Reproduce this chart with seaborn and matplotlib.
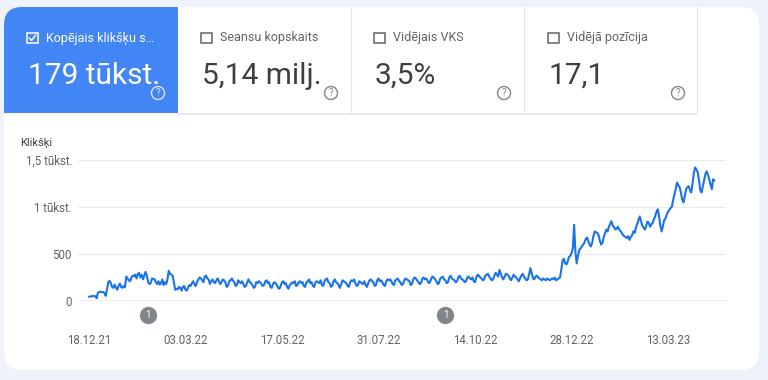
import pandas as pd
import seaborn as sns
import matplotlib.pyplot as plt
import matplotlib.dates as mdates
from matplotlib.patches import FancyBboxPatch, Rectangle, Circle
from matplotlib.transforms import blended_transform_factory

# -----------------------------
# Data (daily clicks)
# -----------------------------

start_date = "2021-12-18"

dec_21 = [45, 48, 50, 52, 55, 50, 30, 90, 95, 100, 92, 96, 85, 55]
jan_22 = [120, 200, 215, 190, 150, 140, 175, 140, 120, 160, 185, 150, 140, 160, 145, 260,
          240, 220, 210, 250, 270, 265, 280, 240, 290, 300, 250, 280, 230, 270, 310]
feb_22 = [270, 200, 180, 190, 240, 235, 230, 200, 180, 210, 175, 190, 230, 170, 200, 180,
          230, 320, 290, 280, 270, 200, 120, 130, 125, 150, 140, 110]
mar_22 = [150, 160, 120, 110, 140, 170, 160, 190, 210, 180, 160, 200, 230, 250, 240, 220,
          200, 260, 270, 240, 230, 180, 210, 230, 200, 190, 220, 240, 210, 180, 200]
apr_22 = [230, 220, 200, 150, 160, 210, 220, 240, 215, 200, 160, 170, 220, 200, 190, 210,
          180, 150, 160, 200, 230, 200, 190, 170, 140, 150, 200, 190, 210, 200]
may_22 = [180, 160, 170, 210, 220, 190, 200, 150, 140, 180, 200, 190, 170, 140, 130, 160,
          200, 210, 180, 190, 150, 130, 170, 180, 200, 190, 210, 160, 170, 200, 210]
jun_22 = [190, 200, 160, 150, 200, 210, 230, 190, 200, 160, 150, 200, 210, 200, 190, 220,
          170, 160, 210, 230, 240, 200, 190, 150, 160, 210, 230, 200, 190, 170]
jul_22 = [140, 180, 220, 210, 200, 190, 160, 150, 200, 220, 210, 230, 190, 160, 170, 210,
          200, 190, 180, 210, 170, 150, 190, 220, 230, 210, 200, 160, 170, 220, 240]
aug_22 = [210, 220, 200, 170, 160, 210, 230, 220, 230, 210, 180, 170, 220, 230, 240, 210,
          200, 170, 180, 220, 240, 230, 220, 210, 170, 180, 230, 250, 240, 220, 200]
sep_22 = [180, 190, 240, 250, 230, 240, 220, 190, 200, 240, 260, 250, 230, 210, 180, 190,
          240, 250, 260, 230, 220, 190, 200, 250, 270, 240, 230, 220, 200, 210]
oct_22 = [250, 270, 240, 230, 220, 200, 210, 250, 260, 240, 230, 250, 210, 200, 250, 280,
          270, 250, 240, 220, 230, 270, 280, 290, 260, 240, 220, 230, 270, 300, 280]
nov_22 = [260, 330, 290, 250, 230, 260, 290, 280, 270, 240, 220, 250, 280, 260, 250, 230,
          210, 240, 270, 290, 260, 240, 220, 230, 280, 350, 300, 240, 230, 260]
dec_22 = [270, 250, 240, 230, 220, 240, 230, 220, 240, 230, 220, 230, 240, 230, 250, 220,
          230, 240, 250, 330, 430, 450, 400, 390, 420, 470, 480, 510, 560, 810, 520]
jan_23 = [400, 480, 545, 560, 580, 600, 620, 660, 675, 640, 600, 580, 620, 690, 740, 730,
          725, 700, 640, 600, 620, 680, 720, 760, 740, 790, 820, 850, 800, 790, 760]
feb_23 = [770, 790, 760, 745, 725, 700, 690, 680, 670, 690, 650, 680, 700, 740, 725, 780,
          820, 860, 900, 850, 800, 780, 760, 800, 845, 830, 790, 815]
mar_23 = [830, 870, 900, 950, 975, 900, 800, 740, 800, 860, 880, 920, 950, 970, 990, 1005,
          1080, 1135, 1200, 1260, 1230, 1210, 1150, 1080, 1050, 1120, 1190, 1210, 1220, 1180, 1155]
apr_23 = [1250, 1360, 1420, 1400, 1370, 1290, 1180, 1155, 1220, 1280, 1350, 1380, 1340, 1295,
          1240, 1190, 1295, 1280]

clicks = (dec_21 + jan_22 + feb_22 + mar_22 + apr_22 + may_22 + jun_22 + jul_22 + aug_22
          + sep_22 + oct_22 + nov_22 + dec_22 + jan_23 + feb_23 + mar_23 + apr_23)

tick_dates = ["2021-12-18", "2022-03-03", "2022-05-17", "2022-07-31",
              "2022-10-14", "2022-12-28", "2023-03-13"]
y_ticks = [0, 500, 1000, 1500]
y_labels = ["0", "500", "1 tūkst.", "1,5 tūkst."]

note_dates = ["2022-02-02", "2022-09-21"]
note_labels = ["1", "1"]

tile_titles = ["Kopējais klikšķu s…", "Seansu kopskaits", "Vidējais VKS", "Vidējā pozīcija"]
tile_values = ["179 tūkst.", "5,14 milj.", "3,5%", "17,1"]

# -----------------------------
# Setup
# -----------------------------

sns.set_theme(style="white")
plt.rcParams["font.family"] = ["Roboto", "DejaVu Sans"]

blue = "#4285f4"
line_blue = "#1a73e8"
gray_text = "#5f6368"
dark_text = "#3c4043"

df = pd.DataFrame({
    "datums": pd.date_range(start_date, periods=len(clicks), freq="D"),
    "klikski": clicks,
})

fig = plt.figure(figsize=(7.68, 3.80), dpi=100)
fig.patch.set_facecolor("#eef2fa")

# background layer in pixel coordinates
bg = fig.add_axes([0, 0, 1, 1], zorder=0)
bg.set_xlim(0, 768)
bg.set_ylim(380, 0)
bg.axis("off")

bg.add_patch(FancyBboxPatch((4, 7), 755, 363, boxstyle="round,pad=0,rounding_size=18",
                            fc="white", ec="none"))

# selected (blue) tile, only top-left corner rounded
bg.add_patch(FancyBboxPatch((4, 7), 174, 106, boxstyle="round,pad=0,rounding_size=18",
                            fc=blue, ec="none"))
bg.add_patch(Rectangle((30, 7), 148, 106, fc=blue, ec="none"))
bg.add_patch(Rectangle((4, 40), 174, 73, fc=blue, ec="none"))

# tile borders
for x in [351, 524, 697]:
    bg.plot([x, x], [7, 113], color="#e4e6e9", lw=1)
bg.plot([178, 697], [113.5, 113.5], color="#e4e6e9", lw=1.2)

tile_left = [27, 201, 374, 548]
help_x = [158, 331, 504, 678]
for i in range(4):
    left = tile_left[i]
    on = i == 0
    fg = "white" if on else gray_text
    bg.add_patch(Rectangle((left, 32.5), 10.5, 10.5, fc="none", ec=fg, lw=1.1))
    if on:
        bg.plot([left + 2.3, left + 4.5, left + 8.6], [38, 40.4, 35.2], color="white", lw=1.1)
    bg.text(left + 19, 38, tile_titles[i], color=fg, fontsize=9, ha="left", va="center")
    bg.text(left + 0.5, 84, tile_values[i], color="white" if on else dark_text,
            fontsize=21.5, ha="left", va="baseline")
    icon = "#dce7fc" if on else "#80868b"
    bg.add_patch(Circle((help_x[i], 93), 6.5, fc="none", ec=icon, lw=1))
    bg.text(help_x[i], 93.5, "?", color=icon, fontsize=7, ha="center", va="center")

bg.text(20, 143, "Klikšķi", color=dark_text, fontsize=8, ha="left", va="center")

# -----------------------------
# Clicks line
# -----------------------------

ax = fig.add_axes([78 / 768, (380 - 301) / 380, 648 / 768, 141 / 380], zorder=1)
ax.set_facecolor("none")

sns.lineplot(data=df, x="datums", y="klikski", ax=ax, color=line_blue, linewidth=1.5)
for line in ax.lines:
    line.set_clip_on(False)

ax.set_ylim(0, 1500)
ax.set_yticks(y_ticks)
ax.set_yticklabels(y_labels)
t0 = df["datums"].iloc[0]
ax.set_xlim(t0 - pd.Timedelta(days=8.5), t0 + pd.Timedelta(days=495))
ax.set_xticks(pd.to_datetime(tick_dates))
ax.xaxis.set_major_formatter(mdates.DateFormatter("%d.%m.%y"))

ax.grid(axis="y", color="#e8eaed", lw=0.8)
ax.axhline(0, color="#a8acb1", lw=1, zorder=0.5)
for s in ax.spines.values():
    s.set_visible(False)
ax.tick_params(axis="y", length=0, pad=4.3, labelsize=8.3, labelcolor=gray_text)
ax.tick_params(axis="x", length=0, pad=24, labelsize=8.3, labelcolor=gray_text)
ax.set_xlabel("")
ax.set_ylabel("")

# annotation markers under the axis
trans = blended_transform_factory(ax.transData, ax.transAxes)
nd = mdates.date2num(pd.to_datetime(note_dates))
ax.scatter(nd, [-0.099] * len(nd), s=155, color="#80868b", transform=trans,
           clip_on=False, zorder=3, linewidths=0)
for x, lab in zip(nd, note_labels):
    ax.text(x, -0.099, lab, transform=trans, color="white", fontsize=7,
            ha="center", va="center", zorder=4)

plt.savefig("out.png", dpi=100)
plt.close()
